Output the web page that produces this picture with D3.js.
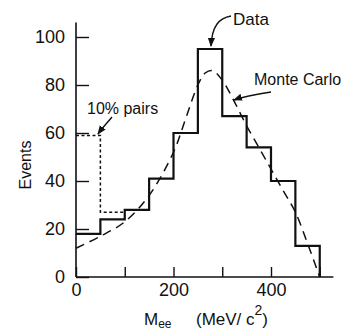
<!DOCTYPE html>
<html>
<head>
<meta charset="utf-8">
<script src="https://cdn.jsdelivr.net/npm/d3@7"></script>
<style>
  body { margin: 0; background: #fff; }
  svg { display: block; }
  text { font-family: "Liberation Sans", Arial, sans-serif; fill: #111; }
</style>
</head>
<body>
<figure id="chart" style="margin:0"></figure>
<script>
// histogram bins (MeV/c^2) and event counts
const binEdges = [0, 50, 100, 150, 200, 250, 300, 350, 400, 450, 500];
const dataCounts = [18, 24, 28, 41, 60, 95, 67, 54, 40, 13];
// "10% pairs" dashed variant for first two bins
const pairsEdges = [0, 50, 100];
const pairsCounts = [59, 27];
// Monte Carlo curve
const mcMass = [0, 50, 100, 150, 200, 225, 250, 265, 280, 300, 325, 350, 375, 400, 425, 450, 475, 500];
const mcEvents = [12, 17, 23, 34, 52, 66, 80, 85, 86, 82, 73, 63, 54, 45, 36, 27, 14, 0];
const yTicks = [0, 20, 40, 60, 80, 100];
const xTicks = [0, 100, 200, 300, 400, 500];
const xLabels = [0, 200, 400];

const W = 342, H = 332;
const svg = d3.select("figure#chart").append("svg")
  .attr("width", W).attr("height", H);

const x = d3.scaleLinear().domain([0, 500]).range([76, 319.75]);
const y = d3.scaleLinear().domain([0, 100]).range([277, 37]);

// axis lines
svg.append("line")
  .attr("x1", x(0)).attr("x2", x(0))
  .attr("y1", y(106)).attr("y2", y(0))
  .attr("stroke", "#111").attr("stroke-width", 1.6);
svg.append("line")
  .attr("x1", x(0)).attr("x2", x(528))
  .attr("y1", y(0)).attr("y2", y(0))
  .attr("stroke", "#111").attr("stroke-width", 1.6);

// y axis ticks (pointing inward)
const yAxis = svg.append("g")
  .attr("transform", "translate(" + x(0) + ",0)")
  .call(d3.axisLeft(y).tickValues(yTicks).tickSize(-13).tickPadding(11));
yAxis.select(".domain").remove();
yAxis.attr("font-family", null);
yAxis.selectAll("line").attr("stroke", "#111").attr("stroke-width", 1.4);
yAxis.selectAll("text").style("font-size", "18px").attr("fill", "#111");

// x axis ticks (pointing up)
const xAxis = svg.append("g")
  .attr("transform", "translate(0," + y(0) + ")")
  .call(d3.axisBottom(x).tickValues(xTicks).tickSize(-10)
    .tickFormat(d => xLabels.includes(d) ? d : "").tickPadding(6));
xAxis.select(".domain").remove();
xAxis.attr("font-family", null);
xAxis.selectAll("line").attr("stroke", "#111").attr("stroke-width", 1.4);
xAxis.selectAll("text").style("font-size", "18px").attr("fill", "#111");

// data histogram as a step line
const dataPts = [];
dataCounts.forEach((v, i) => {
  dataPts.push([binEdges[i], v]);
  dataPts.push([binEdges[i + 1], v]);
});
dataPts.push([binEdges[binEdges.length - 1], 0]);
const line = d3.line().x(d => x(d[0])).y(d => y(d[1]));
svg.append("path")
  .attr("d", line(dataPts))
  .attr("fill", "none").attr("stroke", "#111").attr("stroke-width", 2.2)
  .attr("stroke-linejoin", "miter");

// 10% pairs dashed steps
const pairPts = [];
pairsCounts.forEach((v, i) => {
  pairPts.push([pairsEdges[i], v]);
  pairPts.push([pairsEdges[i + 1], v]);
});
svg.append("path")
  .attr("d", line(pairPts))
  .attr("fill", "none").attr("stroke", "#111").attr("stroke-width", 1.5)
  .attr("stroke-dasharray", "3,2.5");

// Monte Carlo curve
const mcLine = d3.line().x((d, i) => x(mcMass[i])).y(d => y(d))
  .curve(d3.curveCatmullRom.alpha(0.5));
svg.append("path")
  .attr("d", mcLine(mcEvents))
  .attr("fill", "none").attr("stroke", "#111").attr("stroke-width", 1.5)
  .attr("stroke-dasharray", "9,6");

// arrowhead marker
svg.append("defs").append("marker")
  .attr("id", "arr").attr("viewBox", "0 0 10 10")
  .attr("refX", 9).attr("refY", 5)
  .attr("markerWidth", 9).attr("markerHeight", 9)
  .attr("markerUnits", "userSpaceOnUse")
  .attr("orient", "auto")
  .append("path").attr("d", "M0,1 L10,5 L0,9 Z").attr("fill", "#111");

function arrow(d) {
  svg.append("path").attr("d", d)
    .attr("fill", "none").attr("stroke", "#111").attr("stroke-width", 1.4)
    .attr("marker-end", "url(#arr)");
}

// annotations
svg.append("text").attr("x", 233).attr("y", 25).style("font-size", "17px").text("Data");
arrow("M231,16 C219,18 212,26 211,46");

svg.append("text").attr("x", 254).attr("y", 85).style("font-size", "16px").text("Monte Carlo");
arrow("M271,92 C258,94 245,96 234,100");

svg.append("text").attr("x", 87).attr("y", 114).style("font-size", "16px").text("10% pairs");
arrow("M112,117 C108,122 103,127 98,134");

// axis titles
svg.append("text")
  .attr("transform", "translate(31,165) rotate(-90)")
  .attr("text-anchor", "middle").style("font-size", "16px").text("Events");

const xt = svg.append("text").attr("x", 144).attr("y", 325).style("font-size", "17px");
xt.append("tspan").text("M");
xt.append("tspan").attr("dy", 3).style("font-size", "12px").text("ee");
xt.append("tspan").attr("dy", -3).attr("x", 196).text("(MeV/ c");
xt.append("tspan").attr("dy", -10).style("font-size", "14px").text("2");
xt.append("tspan").attr("dy", 10).text(")");
</script>
</body>
</html>
